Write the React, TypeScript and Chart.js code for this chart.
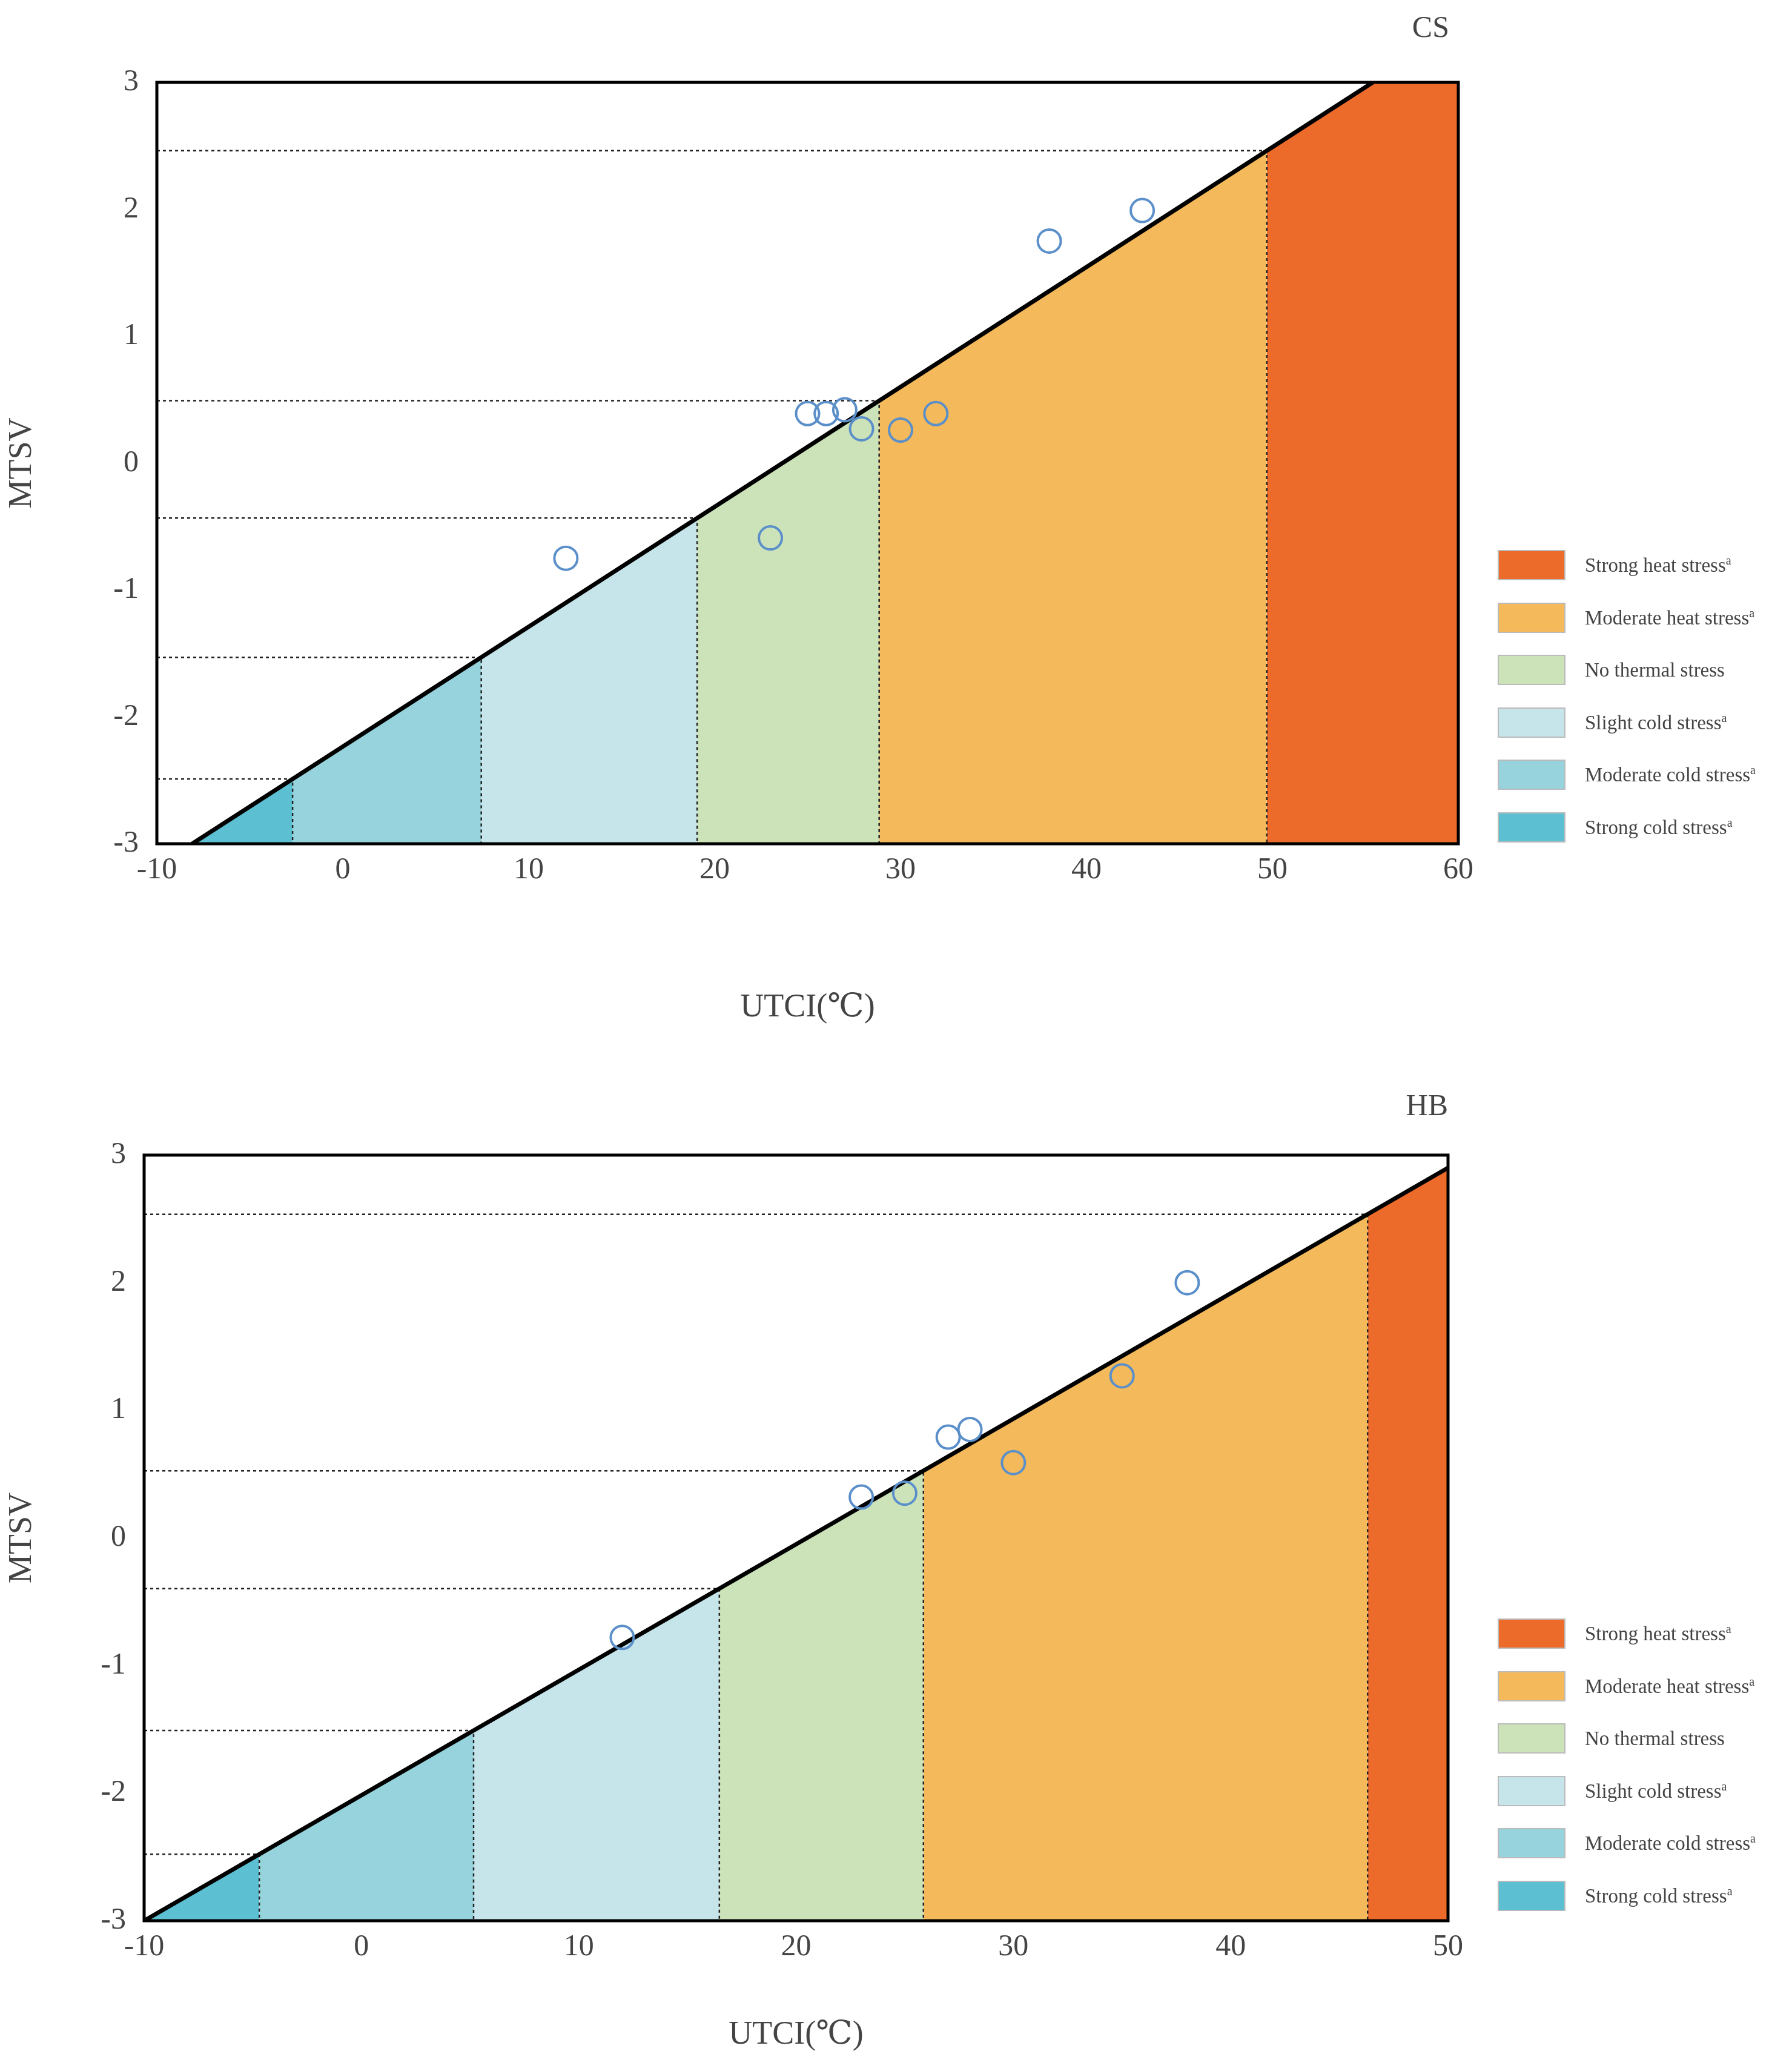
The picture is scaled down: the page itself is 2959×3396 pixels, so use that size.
import React, { useEffect, useRef } from "react";
import { Chart, registerables } from "chart.js";
Chart.register(...registerables);

const FONT = "'Liberation Serif', 'DejaVu Serif', serif";
const zoneNames = ["Strong cold stress", "Moderate cold stress", "Slight cold stress", "No thermal stress", "Moderate heat stress", "Strong heat stress"];
const zoneSup = [true, true, true, false, true, true];
const zoneColors = ["#5DC0D2", "#96D3DC", "#C6E5EB", "#CCE3BA", "#F4B95A", "#EC6A2A"];

// CS
const csLine = [{ x: -8.1, y: -3 }, { x: 55.4, y: 3 }];
const csBounds = [-2.7, 7.45, 19.06, 28.85, 49.7];
const csX = [12.0, 23.0, 25.0, 26.0, 27.0, 27.9, 30.0, 31.9, 38.0, 43.0];
const csY = [-0.75, -0.59, 0.39, 0.39, 0.42, 0.27, 0.26, 0.39, 1.75, 1.99];
// HB
const hbLine = [{ x: -10, y: -3 }, { x: 50, y: 2.9 }];
const hbBounds = [-4.7, 5.16, 16.47, 25.86, 46.3];
const hbX = [12.0, 23.0, 25.0, 27.0, 28.0, 30.0, 35.0, 38.0];
const hbY = [-0.78, 0.32, 0.35, 0.79, 0.85, 0.59, 1.27, 2.0];

function makeChart(canvas: HTMLCanvasElement, cfg: any) {
  const [p0, p1] = cfg.line;
  const slope = (p1.y - p0.y) / (p1.x - p0.x);
  const f = (x: number) => Math.min(3, p0.y + slope * (x - p0.x));
  const edges = [p0.x, ...cfg.bounds, cfg.xmax];
  const datasets: any[] = [];
  for (let i = 0; i < 6; i++) {
    const a = edges[i], b = edges[i + 1];
    const pts: any[] = [{ x: a, y: f(a) }];
    if (p1.y >= 3 && p1.x > a && p1.x < b) pts.push({ x: p1.x, y: 3 });
    pts.push({ x: b, y: f(b) });
    datasets.push({ type: "line", data: pts, borderWidth: 0, pointRadius: 0, fill: { value: -3 }, backgroundColor: zoneColors[i], order: 5 });
  }
  cfg.bounds.forEach((b: number) => {
    datasets.push({ type: "line", data: [{ x: cfg.xmin, y: f(b) }, { x: b, y: f(b) }, { x: b, y: -3 }], borderColor: "#222", borderWidth: 2.5, borderDash: [5, 5], pointRadius: 0, fill: false, order: 4 });
  });
  datasets.push({ type: "line", data: cfg.line, borderColor: "#000", borderWidth: 7, pointRadius: 0, fill: false, order: 3 });
  datasets.push({ type: "scatter", data: cfg.px.map((x: number, i: number) => ({ x, y: cfg.py[i] })), pointRadius: 19, borderWidth: 4, borderColor: "#5B8FC9", backgroundColor: "rgba(0,0,0,0)", order: 1 });

  const frame = {
    id: "frame",
    afterDraw(c: any) {
      const { ctx, chartArea: a } = c;
      ctx.save(); ctx.strokeStyle = "#000"; ctx.lineWidth = 5;
      ctx.strokeRect(a.left, a.top, a.right - a.left, a.bottom - a.top);
      ctx.restore();
    },
  };
  return new Chart(canvas, {
    type: "scatter",
    data: { datasets },
    plugins: [frame],
    options: {
      animation: false, responsive: false, devicePixelRatio: 1,
      layout: { padding: { left: 0, top: cfg.top, right: cfg.right, bottom: 0 } },
      plugins: { legend: { display: false }, tooltip: { enabled: false } },
      scales: {
        x: {
          type: "linear", min: cfg.xmin, max: cfg.xmax,
          ticks: { stepSize: 10, color: "#444", font: { family: FONT, size: 50 }, padding: 14 },
          grid: { display: false, drawTicks: false }, border: { display: false },
          title: { display: true, text: "UTCI(℃)", color: "#444", font: { family: FONT, size: 54 }, padding: { top: 10 } },
          afterFit: (s: any) => { s.height = cfg.xh; },
        },
        y: {
          min: -3, max: 3,
          ticks: { stepSize: 1, color: "#444", font: { family: FONT, size: 50 }, padding: 30 },
          grid: { display: false, drawTicks: false }, border: { display: false },
          title: { display: true, text: "MTSV", color: "#444", font: { family: FONT, size: 54 }, padding: { bottom: 20 } },
          afterFit: (s: any) => { s.width = cfg.yw; },
        },
      },
    },
  });
}

function Legend({ top }: { top: number }) {
  const order = [5, 4, 3, 2, 1, 0];
  return (
    <div style={{ position: "absolute", left: 2473, top }}>
      {order.map((i, k) => (
        <div key={i} style={{ position: "absolute", top: k * 86.5, left: 0, display: "flex", alignItems: "center", whiteSpace: "nowrap" }}>
          <div style={{ width: 112, height: 50, background: zoneColors[i], border: "2px solid #bbb", boxSizing: "border-box" }} />
          <span style={{ marginLeft: 32, fontFamily: FONT, fontSize: 33, color: "#444" }}>
            {zoneNames[i]}{zoneSup[i] ? <sup style={{ fontSize: 20 }}>a</sup> : null}
          </span>
        </div>
      ))}
    </div>
  );
}

export default function App() {
  const r1 = useRef<HTMLCanvasElement>(null);
  const r2 = useRef<HTMLCanvasElement>(null);
  useEffect(() => {
    const c1 = makeChart(r1.current!, { line: csLine, bounds: csBounds, px: csX, py: csY, xmin: -10, xmax: 60, top: 136, right: 2959 - 2408, xh: 1700 - 1393, yw: 259 });
    const c2 = makeChart(r2.current!, { line: hbLine, bounds: hbBounds, px: hbX, py: hbY, xmin: -10, xmax: 50, top: 207, right: 2959 - 2391, xh: 1696 - 1471, yw: 238 });
    return () => { c1.destroy(); c2.destroy(); };
  }, []);
  const title = (t: string, top: number, right: number) => (
    <div style={{ position: "absolute", top, left: 0, width: right, textAlign: "right", fontFamily: FONT, fontSize: 50, color: "#444" }}>{t}</div>
  );
  return (
    <div style={{ position: "absolute", left: 0, top: 0, width: 2959, height: 3396, background: "#fff" }}>
      <canvas ref={r1} width={2959} height={1700} style={{ position: "absolute", left: 0, top: 0 }} />
      <canvas ref={r2} width={2959} height={1696} style={{ position: "absolute", left: 0, top: 1700 }} />
      {title("CS", 15, 2393)}
      {title("HB", 1795, 2391)}
      <Legend top={908} />
      <Legend top={2672} />
    </div>
  );
}
